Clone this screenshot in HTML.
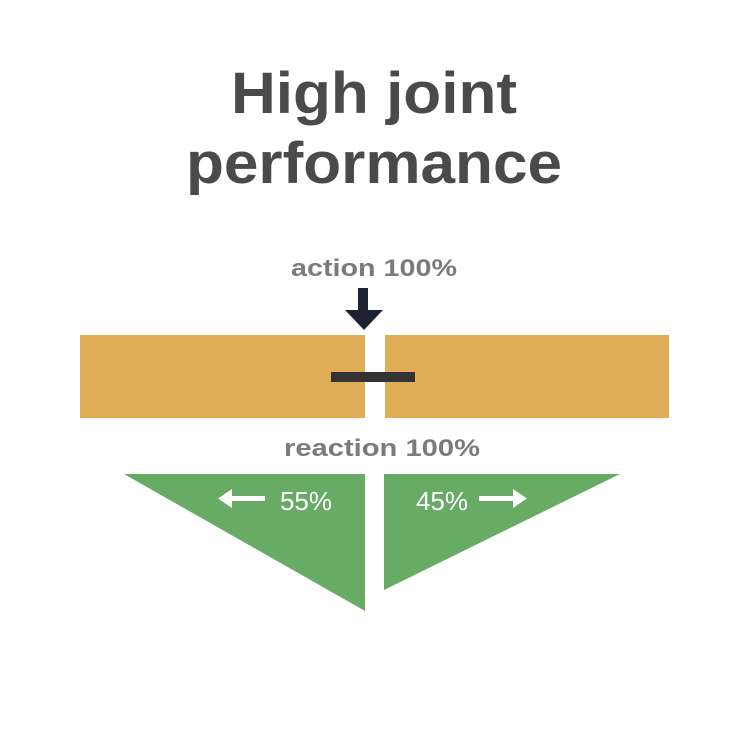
<!DOCTYPE html>
<html><head><meta charset="utf-8"><style>
html,body{margin:0;padding:0;background:#fff;}
svg{display:block;}
</style></head><body>
<svg width="748" height="756" viewBox="0 0 748 756" xmlns="http://www.w3.org/2000/svg">
<rect width="748" height="756" fill="#fff"/>
<g font-family="Liberation Sans, sans-serif" font-weight="bold" text-anchor="middle">
<text x="374" y="113" font-size="58" fill="#4a4a4a" textLength="286" lengthAdjust="spacingAndGlyphs">High joint</text>
<text x="374" y="183" font-size="58" fill="#4a4a4a" textLength="376" lengthAdjust="spacingAndGlyphs">performance</text>
<text x="374" y="276" font-size="24" fill="#7b7b7b" textLength="166" lengthAdjust="spacingAndGlyphs">action 100%</text>
<text x="382" y="456" font-size="24" fill="#7b7b7b" textLength="196" lengthAdjust="spacingAndGlyphs">reaction 100%</text>
</g>
<rect x="358" y="288" width="10" height="24" fill="#1d2230"/>
<polygon points="345,310 383,310 364,330" fill="#1d2230"/>
<rect x="80" y="335" width="285" height="83" fill="#dead56"/>
<rect x="385" y="335" width="284" height="83" fill="#dead56"/>
<rect x="331" y="372" width="84" height="10" fill="#333"/>
<polygon points="124,474 365,474 365,611" fill="#68ab65"/>
<polygon points="384,474 620,474 384,590" fill="#68ab65"/>
<g fill="#fff">
<rect x="230" y="496" width="35" height="5"/>
<polygon points="218,498.5 232,489 232,508"/>
<rect x="479" y="496" width="35" height="5"/>
<polygon points="527,498.5 513,489 513,508"/>
</g>
<g font-family="Liberation Sans, sans-serif" font-size="26" fill="#fff" text-anchor="middle">
<text x="306" y="510">55%</text>
<text x="442" y="510">45%</text>
</g>
</svg>
</body></html>
